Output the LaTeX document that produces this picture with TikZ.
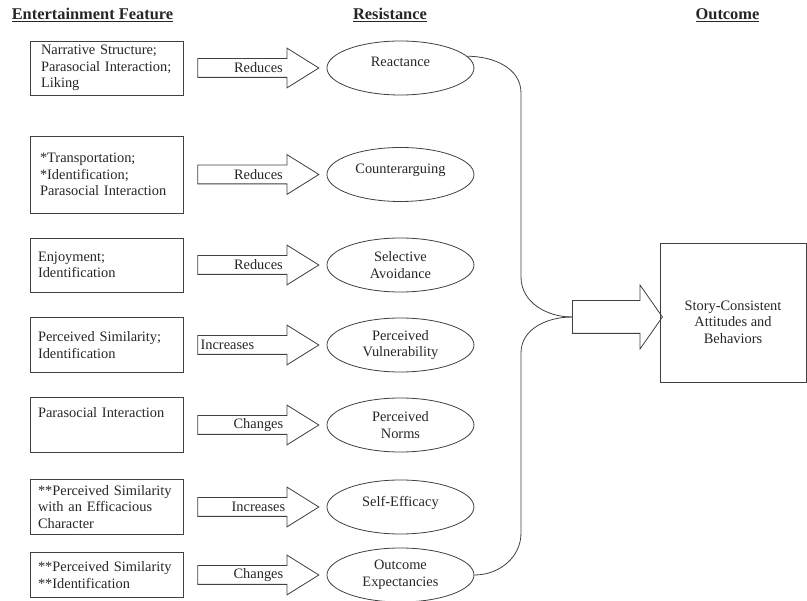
\documentclass[tikz,border=0pt]{standalone}
\usepackage{fontspec}
\setmainfont{Liberation Serif}
\usetikzlibrary{positioning, shapes.geometric, shapes.arrows}

\begin{document}
\begin{tikzpicture}[
    x=1pt, y=-1pt,
    font=\fontsize{14.4}{16.5}\selectfont,
    every node/.style={text=black!85},
    line/.style={draw=black!75, line width=0.8pt},
    feature/.style={line, rectangle, text width=137pt, inner xsep=8pt, inner ysep=0pt, align=left},
    resist/.style={line, ellipse, minimum width=147pt, minimum height=54pt, inner sep=0pt, align=center},
    oneline/.style={text depth=12pt},
    blockarrow/.style={line, single arrow, minimum height=121pt, inner xsep=0pt, inner ysep=9pt,
        single arrow head extend=10.5pt, single arrow tip angle=64},
    bigarrow/.style={line, single arrow, minimum height=90pt, inner xsep=0pt, inner ysep=16pt,
        single arrow head extend=15.5pt, single arrow tip angle=110},
    head/.style={font=\fontsize{16.4}{18}\selectfont\bfseries}
]
    \useasboundingbox (0,0) rectangle (807,601);

    % Headings
    \node[head] (hfeat) at (92.5,15) {\underline{Entertainment Feature}};
    \node[head] (hres) at (390,15) {\underline{Resistance}};
    \node[head] (hout) at (727.5,15) {\underline{Outcome}};

    % Entertainment features
    \node[feature, minimum height=54pt] (f1) at (106.5,68) {\hspace*{3pt}Narrative Structure;\\\hspace*{3pt}Parasocial Interaction;\\\hspace*{3pt}Liking};
    \node[feature, minimum height=77pt] (f2) at (106.5,174.5) {\hspace*{2pt}*Transportation;\\\hspace*{2pt}*Identification;\\\hspace*{2pt}Parasocial Interaction};
    \node[feature, minimum height=54pt] (f3) at (106.5,265) {Enjoyment;\\Identification};
    \node[feature, minimum height=55pt] (f4) at (106.5,345) {Perceived Similarity;\\Identification};
    \node[feature, minimum height=55pt, text depth=24pt] (f5) at (106.5,425) {Parasocial Interaction};
    \node[feature, minimum height=55pt] (f6) at (106.5,507) {**Perceived Similarity\\with an Efficacious\\Character};
    \node[feature, minimum height=45pt] (f7) at (106.5,575) {**Perceived Similarity\\{}**Identification};

    % Block arrows
    \node[blockarrow, right=14pt of f1] (a1) {};
    \node[blockarrow, right=14pt of f2] (a2) {};
    \node[blockarrow, right=14pt of f3] (a3) {};
    \node[blockarrow, right=14pt of f4] (a4) {};
    \node[blockarrow, right=14pt of f5] (a5) {};
    \node[blockarrow, right=14pt of f6] (a6) {};
    \node[blockarrow, right=14pt of f7] (a7) {};

    \node (l1) at ([xshift=61pt]a1.west) {Reduces};
    \node (l2) at ([xshift=61pt]a2.west) {Reduces};
    \node (l3) at ([xshift=61pt]a3.west) {Reduces};
    \node[anchor=west, inner xsep=1pt] (l4) at ([xshift=2pt]a4.west) {Increases};
    \node (l5) at ([xshift=61pt]a5.west) {Changes};
    \node (l6) at ([xshift=61pt]a6.west) {Increases};
    \node (l7) at ([xshift=61pt]a7.west) {Changes};

    % Resistance
    \node[resist, oneline, right=7pt of a1] (r1) {Reactance};
    \node[resist, oneline, right=7pt of a2] (r2) {Counterarguing};
    \node[resist, right=7pt of a3] (r3) {Selective\\Avoidance};
    \node[resist, right=7pt of a4] (r4) {Perceived\\Vulnerability};
    \node[resist, right=7pt of a5] (r5) {Perceived\\Norms};
    \node[resist, oneline, right=7pt of a6] (r6) {Self-Efficacy};
    \node[resist, right=7pt of a7] (r7) {Outcome\\Expectancies};

    % Outcome
    \node[bigarrow, anchor=west] (big) at (572,317) {};
    \node[line, rectangle, minimum width=146pt, minimum height=139pt] (out) at (733,312.5) {};
    \node[align=center] (outtext) at ([yshift=-9.5pt]out.center) {Story-Consistent\\Attitudes and\\Behaviors};

    % Joining curves
    \draw[line] (r1.10) to[out=0, in=90] (521,93) -- (521,277) to[out=-90, in=180] (big.west);
    \draw[line] (big.west) to[out=180, in=90] (521,353) -- (521,533) to[out=-90, in=0] (r7.east);

\end{tikzpicture}
\end{document}
